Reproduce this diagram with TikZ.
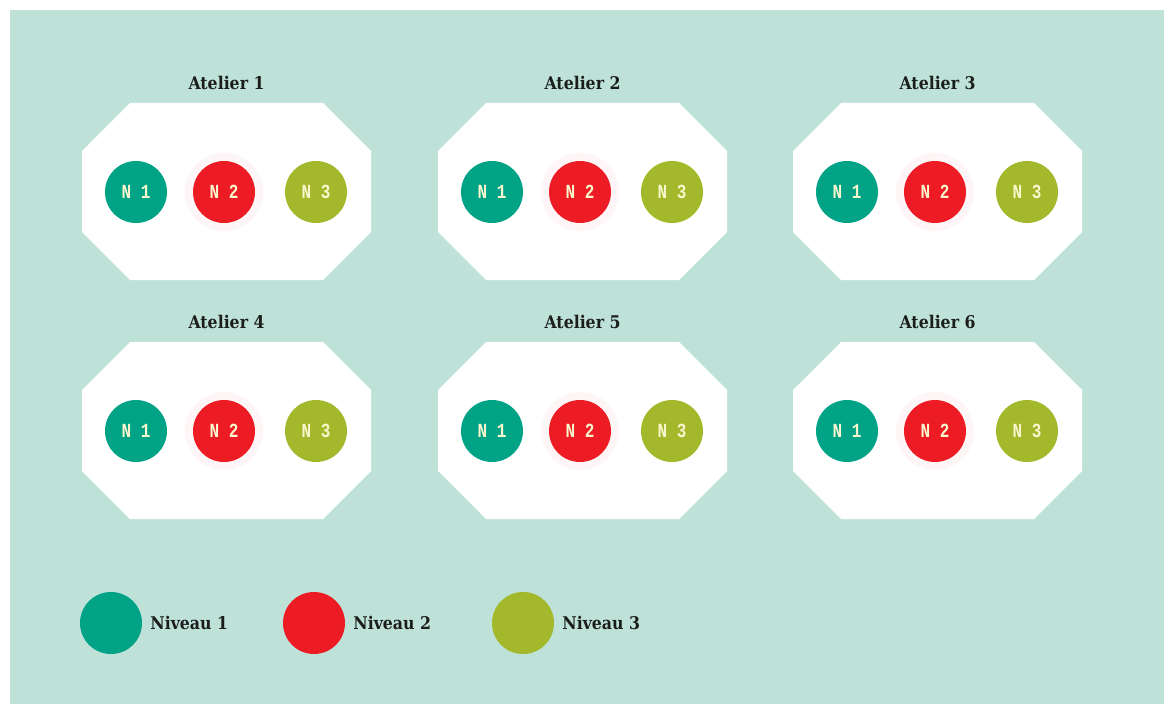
\documentclass[tikz,border=0pt]{standalone}
\usepackage{fontspec}
\newfontfamily\titlefont{DejaVu Serif}[FakeStretch=0.9]
\newfontfamily\circfont{Liberation Mono}[FakeStretch=0.8]
\definecolor{bgteal}{RGB}{190,226,216}
\definecolor{niva}{RGB}{0,163,134}
\definecolor{nivb}{RGB}{237,28,36}
\definecolor{nivc}{RGB}{163,185,43}
\definecolor{inkdark}{RGB}{28,30,30}
\definecolor{cream}{RGB}{250,246,206}
\tikzset{
  lvl/.style={circle,minimum size=62bp,inner sep=0pt,text=cream,font=\circfont\bfseries\fontsize{20bp}{20bp}\selectfont},
  glow/.style={preaction={draw=nivb,draw opacity=0.04,line width=16bp}},
  ttl/.style={text=inkdark,font=\titlefont\bfseries\fontsize{17.5bp}{20bp}\selectfont}
}
\begin{document}
\begin{tikzpicture}[x=1bp,y=-1bp]
\useasboundingbox (0,0) rectangle (1164,704);
\fill[bgteal] (10,10) rectangle (1164,704);
\foreach \n/\x/\y in {1/82/103,2/438/103,3/793/103,4/82/342,5/438/342,6/793/342}{
\begin{scope}[shift={(\x,\y)}]
\fill[white] (48,0)--(241,0)--(289,48)--(289,129)--(241,177)--(48,177)--(0,129)--(0,48)--cycle;
\node[ttl] (t\n) at (144.5,-20) {Atelier \n};
\node[lvl,fill=niva] (a\n) at (54,89) {N 1};
\node[lvl,fill=nivb,glow] (b\n) at (142,89) {N 2};
\node[lvl,fill=nivc] (c\n) at (234,89) {N 3};
\end{scope}
}
\node[lvl,fill=niva] (l1) at (111,623) {};
\node[lvl,fill=nivb] (l2) at (314,623) {};
\node[lvl,fill=nivc] (l3) at (523,623) {};
\node[ttl,right,inner sep=0pt,xshift=8bp] (n1) at (l1.east) {Niveau 1};
\node[ttl,right,inner sep=0pt,xshift=8bp] (n2) at (l2.east) {Niveau 2};
\node[ttl,right,inner sep=0pt,xshift=8bp] (n3) at (l3.east) {Niveau 3};
\end{tikzpicture}
\end{document}
